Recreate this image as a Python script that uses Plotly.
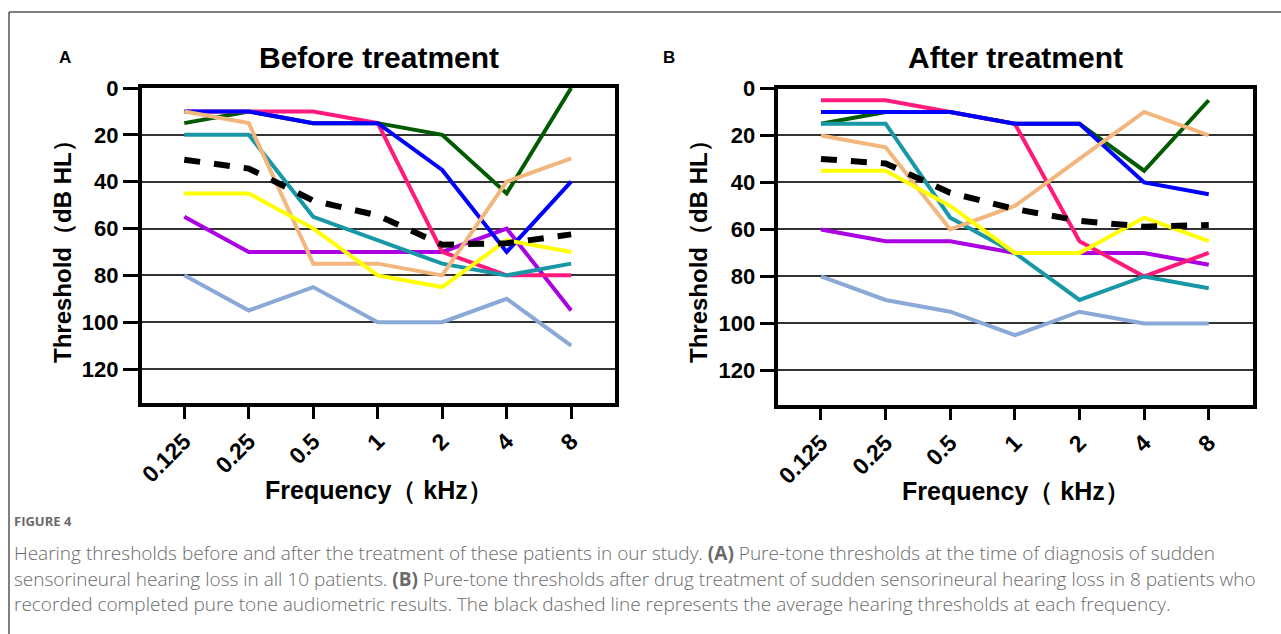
import plotly.graph_objects as go

# ---------------- data ----------------
freq_labels = ["0.125", "0.25", "0.5", "1", "2", "4", "8"]

series_names = ["P1", "P2", "P3", "P4", "P5", "P6", "P7", "P8"]
series_colors = ["#8aa9d6", "#aa00e2", "#005a00", "#ff1a7c", "#0000ff",
                 "#1898a6", "#f3b67c", "#ffff00"]

before_lightblue = [80, 95, 85, 100, 100, 90, 110]
before_purple = [55, 70, 70, 70, 70, 60, 95]
before_green = [15, 10, 15, 15, 20, 45, 0]
before_pink = [10, 10, 10, 15, 70, 80, 80]
before_blue = [10, 10, 15, 15, 35, 70, 40]
before_teal = [20, 20, 55, 65, 75, 80, 75]
before_tan = [10, 15, 75, 75, 80, 40, 30]
before_yellow = [45, 45, 60, 80, 85, 65, 70]
before_mean = [30.6, 34.4, 48.1, 54.4, 66.9, 66.3, 62.5]

after_lightblue = [80, 90, 95, 105, 95, 100, 100]
after_purple = [60, 65, 65, 70, 70, 70, 75]
after_green = [15, 10, 10, 15, 15, 35, 5]
after_pink = [5, 5, 10, 15, 65, 80, 70]
after_blue = [10, 10, 10, 15, 15, 40, 45]
after_teal = [15, 15, 55, 70, 90, 80, 85]
after_tan = [20, 25, 60, 50, 30, 10, 20]
after_yellow = [35, 35, 50, 70, 70, 55, 65]
after_mean = [30.0, 31.9, 44.4, 51.3, 56.3, 58.8, 58.1]

y_ticks = [0, 20, 40, 60, 80, 100, 120]

before_series = [before_lightblue, before_purple, before_green, before_pink,
                 before_blue, before_teal, before_tan, before_yellow]
after_series = [after_lightblue, after_purple, after_green, after_pink,
                after_blue, after_teal, after_tan, after_yellow]

# ---------------- layout helpers ----------------
W, H = 1281, 634


def px(x):
    return x / W


def py(y):
    return 1 - y / H


FONT = "Liberation Sans, Arial, Helvetica, sans-serif"

fig = go.Figure()

panels = [
    ("x", "y", before_series, before_mean),
    ("x2", "y2", after_series, after_mean),
]
xpos = list(range(len(freq_labels)))
for xa, ya, ser, mean in panels:
    for name, col, vals in zip(series_names, series_colors, ser):
        fig.add_trace(go.Scatter(x=xpos, y=vals, mode="lines", name=name,
                                 line=dict(color=col, width=4),
                                 xaxis=xa, yaxis=ya, showlegend=False,
                                 hoverinfo="skip"))
    fig.add_trace(go.Scatter(x=xpos, y=mean, mode="lines", name="Mean",
                             line=dict(color="black", width=6, dash="16px,14px"),
                             xaxis=xa, yaxis=ya, showlegend=False,
                             hoverinfo="skip"))

xaxis_common = dict(
    tickmode="array", tickvals=xpos, ticktext=freq_labels,
    range=[-0.66, 6.68], tickangle=-45,
    ticks="outside", ticklen=12, tickwidth=3, tickcolor="black",
    showline=True, linewidth=3.5, linecolor="black", mirror=True,
    showgrid=False, zeroline=False, automargin=False,
    tickfont=dict(family=FONT, size=23, color="black", weight="bold"),
)
yaxis_common = dict(
    tickmode="array", tickvals=y_ticks, ticktext=[str(v) for v in y_ticks],
    range=[134.5, 0],
    ticks="outside", ticklen=15, tickwidth=3, tickcolor="black",
    showline=True, linewidth=3.5, linecolor="black", mirror=True,
    showgrid=True, gridcolor="#333333", gridwidth=1.6, zeroline=False,
    automargin=False,
    tickfont=dict(family=FONT, size=22, color="black", weight="bold"),
)

fig.update_layout(
    width=W, height=H,
    margin=dict(l=0, r=0, t=0, b=0, autoexpand=False),
    paper_bgcolor="white", plot_bgcolor="white",
    xaxis=dict(domain=[px(141.7), px(615)], anchor="y", **xaxis_common),
    yaxis=dict(domain=[py(403), py(88)], anchor="x", **yaxis_common),
    xaxis2=dict(domain=[px(778.3), px(1252.7)], anchor="y2", **xaxis_common),
    yaxis2=dict(domain=[py(404.5), py(88.5)], anchor="x2", **yaxis_common),
)

ann = []
bold = dict(family=FONT, color="black", weight="bold")
# panel letters
ann.append(dict(x=px(65), y=py(58), text="A", font=dict(size=17, **bold)))
ann.append(dict(x=px(669), y=py(58), text="B", font=dict(size=17, **bold)))
# titles
ann.append(dict(x=px(378.5), y=py(58), text="Before treatment", font=dict(size=30, **bold)))
ann.append(dict(x=px(1015.5), y=py(58), text="After treatment", font=dict(size=30, **bold)))
# axis titles
ann.append(dict(x=px(62), y=py(246), text="Threshold（dB HL）", textangle=-90,
                font=dict(size=24, **bold)))
ann.append(dict(x=px(698), y=py(246), text="Threshold（dB HL）", textangle=-90,
                font=dict(size=24, **bold)))
ann.append(dict(x=px(379), y=py(490), text="Frequency（ kHz）", font=dict(size=25, **bold)))
ann.append(dict(x=px(1016), y=py(491), text="Frequency（ kHz）", font=dict(size=25, **bold)))

for a in ann:
    a.update(xref="paper", yref="paper", showarrow=False,
             xanchor="center", yanchor="middle")

cap_font = dict(family="Open Sans, Noto Sans, sans-serif", color="#6a6a6a")
caption_lines = [
    "Hearing thresholds before and after the treatment of these patients in our study. <b>(A)</b> Pure-tone thresholds at the time of diagnosis of sudden",
    "sensorineural hearing loss in all 10 patients. <b>(B)</b> Pure-tone thresholds after drug treatment of sudden sensorineural hearing loss in 8 patients who",
    "recorded completed pure tone audiometric results. The black dashed line represents the average hearing thresholds at each frequency.",
]
ann.append(dict(x=px(12), y=py(521), text="<b>FIGURE 4</b>", xref="paper", yref="paper",
                showarrow=False, xanchor="left", yanchor="middle",
                font=dict(size=13, **cap_font)))
for i, line in enumerate(caption_lines):
    ann.append(dict(x=px(12), y=py(553 + 25.5 * i), text=line, xref="paper", yref="paper",
                    showarrow=False, xanchor="left", yanchor="middle",
                    font=dict(size=19, weight=300, **cap_font)))

fig.update_layout(annotations=ann)

# outer frame (top and left border lines)
fig.add_shape(type="line", xref="paper", yref="paper",
              x0=px(9), x1=1, y0=py(12), y1=py(12),
              line=dict(color="#555555", width=1.5))
fig.add_shape(type="line", xref="paper", yref="paper",
              x0=px(9), x1=px(9), y0=py(12), y1=0,
              line=dict(color="#555555", width=1.5))

fig.write_html("out.html", config={"displayModeBar": False})
